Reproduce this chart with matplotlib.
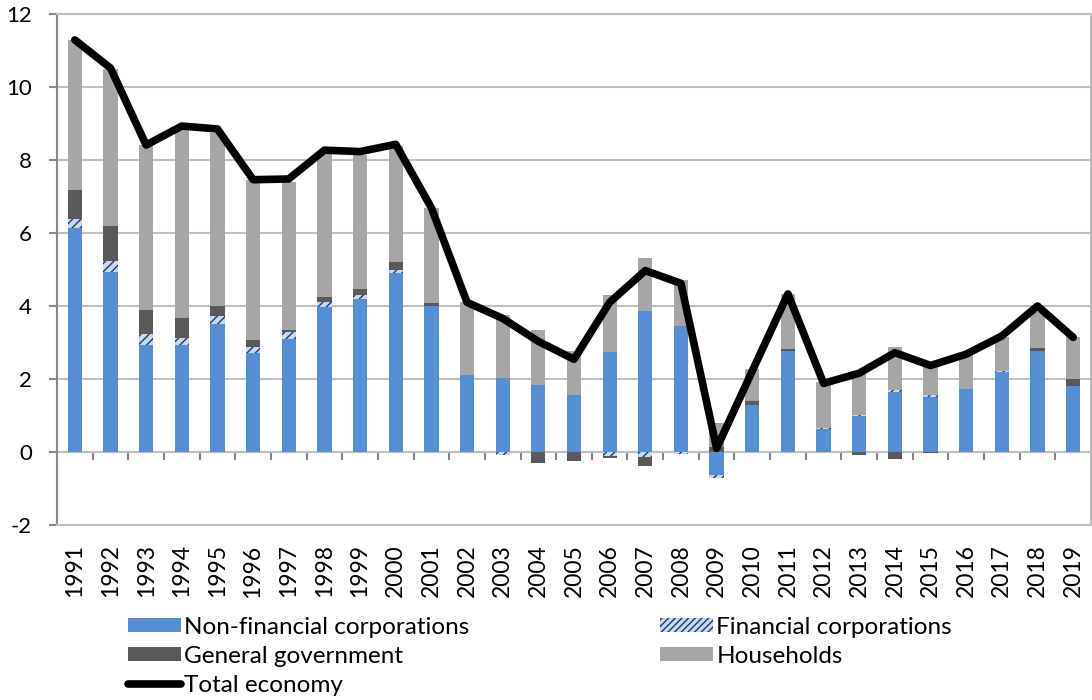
import numpy as np
import matplotlib

matplotlib.use("Agg")
import matplotlib.pyplot as plt
from matplotlib.patches import Patch
from matplotlib.lines import Line2D

years = [str(y) for y in range(1991, 2020)]

non_financial = [6.15, 4.94, 2.93, 2.93, 3.50, 2.70, 3.10, 3.96, 4.18, 4.90,
                 4.00, 2.11, 2.02, 1.84, 1.56, 2.75, 3.86, 3.46, -0.63, 1.29,
                 2.77, 0.62, 0.99, 1.65, 1.52, 1.72, 2.18, 2.77, 1.81]
financial = [0.23, 0.29, 0.29, 0.18, 0.23, 0.18, 0.20, 0.16, 0.13, 0.10,
             0.00, 0.00, -0.08, 0.00, 0.00, -0.12, -0.15, -0.05, -0.07, 0.00,
             0.00, 0.03, 0.03, 0.05, 0.03, 0.00, 0.03, 0.00, 0.00]
government = [0.80, 0.96, 0.67, 0.57, 0.27, 0.19, 0.04, 0.14, 0.15, 0.20,
              0.07, 0.00, 0.00, -0.31, -0.24, -0.05, -0.22, 0.00, 0.15, 0.12,
              0.05, 0.00, -0.07, -0.18, -0.04, 0.00, 0.00, 0.09, 0.18]
households = [4.11, 4.30, 4.52, 5.16, 4.75, 4.38, 4.07, 3.90, 3.68, 3.17,
              2.61, 1.99, 1.73, 1.50, 1.22, 1.55, 1.46, 1.25, 0.64, 0.86,
              1.50, 1.26, 1.21, 1.19, 0.85, 0.94, 0.95, 0.98, 1.15]
total = [11.29, 10.52, 8.41, 8.93, 8.85, 7.46, 7.48, 8.27, 8.23, 8.43,
         6.69, 4.10, 3.66, 3.03, 2.54, 4.10, 4.97, 4.62, 0.10, 2.22,
         4.33, 1.88, 2.16, 2.72, 2.37, 2.68, 3.18, 4.00, 3.14]

plt.rcParams["font.family"] = ["Lato", "DejaVu Sans"]
plt.rcParams["axes.unicode_minus"] = False
plt.rcParams["hatch.linewidth"] = 1.0

GRID = "#BFBFBF"
AXIS = "#878787"

fig = plt.figure(figsize=(10.92, 7.0), dpi=100)
ax = fig.add_axes([57 / 1092, 1 - 525 / 700, 1034 / 1092, 511 / 700])

x = np.arange(len(years))
width = 0.4
series = [
    (non_financial, dict(color="#558ED5")),
    (financial, dict(color="#C6D9F1", hatch="////", edgecolor="#1F3864", linewidth=0)),
    (government, dict(color="#595959")),
    (households, dict(color="#A6A6A6")),
]

# Excel-style stacking: positives upward from 0, negatives downward from 0
pos_bottom = np.zeros(len(years))
neg_bottom = np.zeros(len(years))
for values, style in series:
    values = np.asarray(values)
    bottom = np.where(values >= 0, pos_bottom, neg_bottom)
    ax.bar(x, values, width, bottom=bottom, zorder=2, **style)
    pos_bottom += np.clip(values, 0, None)
    neg_bottom += np.clip(values, None, 0)

ax.plot(x, total, color="black", linewidth=5.5, zorder=3,
        solid_joinstyle="round", solid_capstyle="round")

ymin, ymax = -2, 12
ax.set_ylim(ymin, ymax)
ax.set_xlim(-0.5, len(years) - 0.5)
ax.set_yticks(np.arange(ymin, ymax + 1, 2))
ax.yaxis.grid(True, color=GRID, linewidth=1.5, zorder=0)
ax.set_axisbelow(True)
ax.tick_params(axis="y", labelsize=16, length=6, width=1.5, color=AXIS, pad=12)

ax.set_xticks(x)
ax.set_xticklabels(years, rotation=90, fontsize=16.5)
ax.tick_params(axis="x", length=0, pad=14)

ax.spines["left"].set_color(AXIS)
ax.spines["left"].set_linewidth(1.5)
for side in ("top", "right", "bottom"):
    ax.spines[side].set_color(GRID)
    ax.spines[side].set_linewidth(1.5)

# zero line with category boundary ticks
zero_loc = (0 - ymin) / (ymax - ymin)
sec = ax.secondary_xaxis(zero_loc)
sec.set_alignment("bottom")
sec.set_xticks(x[:-1] + 0.5)
sec.set_xticklabels([])
sec.tick_params(axis="x", direction="out", length=6, width=1.5, color=AXIS)
sec.spines["bottom"].set_color(AXIS)
sec.spines["bottom"].set_linewidth(1.5)

handles = {
    "Non-financial corporations": Patch(facecolor="#558ED5"),
    "Financial corporations": Patch(facecolor="#C6D9F1", hatch="/////",
                                    edgecolor="#1F3864", linewidth=0),
    "General government": Patch(facecolor="#595959"),
    "Households": Patch(facecolor="#A6A6A6"),
    "Total economy": Line2D([], [], color="black", linewidth=5.5,
                            solid_capstyle="round"),
}

legend_kw = dict(frameon=False, fontsize=17.5, loc="upper left", borderpad=0,
                 borderaxespad=0, handlelength=2.2, handleheight=0.5,
                 handletextpad=0.12, labelspacing=0.33)
left_names = ["Non-financial corporations", "General government", "Total economy"]
right_names = ["Financial corporations", "Households"]
fig.legend([handles[n] for n in left_names], left_names,
           bbox_to_anchor=(128 / 1092, 1 - 617 / 700), **legend_kw)
fig.legend([handles[n] for n in right_names], right_names,
           bbox_to_anchor=(660 / 1092, 1 - 617 / 700), **legend_kw)

fig.savefig("out.png", dpi=100)
